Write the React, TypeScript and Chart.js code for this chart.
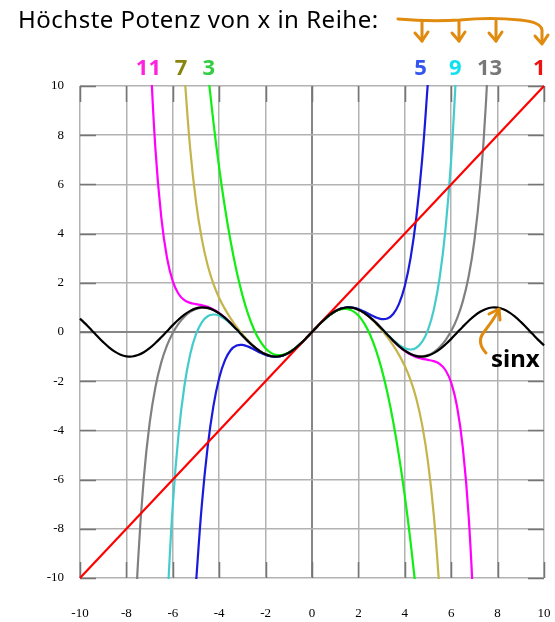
import React, { useEffect, useRef } from "react";
import { Chart, registerables } from "chart.js";

Chart.register(...registerables);

const _ = null;

// Shared x sample positions (step 0.25)
const X = [
  -10, -9.75, -9.5, -9.25, -9, -8.75, -8.5, -8.25,
  -8, -7.75, -7.5, -7.25, -7, -6.75, -6.5, -6.25,
  -6, -5.75, -5.5, -5.25, -5, -4.75, -4.5, -4.25,
  -4, -3.75, -3.5, -3.25, -3, -2.75, -2.5, -2.25,
  -2, -1.75, -1.5, -1.25, -1, -0.75, -0.5, -0.25,
  0,
  0.25, 0.5, 0.75, 1, 1.25, 1.5, 1.75, 2,
  2.25, 2.5, 2.75, 3, 3.25, 3.5, 3.75, 4,
  4.25, 4.5, 4.75, 5, 5.25, 5.5, 5.75, 6,
  6.25, 6.5, 6.75, 7, 7.25, 7.5, 7.75, 8,
  8.25, 8.5, 8.75, 9, 9.25, 9.5, 9.75, 10,
];

const SIN = [
  0.544, 0.32, 0.075, -0.174, -0.412, -0.625, -0.798, -0.923,
  -0.989, -0.995, -0.938, -0.823, -0.657, -0.45, -0.215, 0.033,
  0.279, 0.508, 0.706, 0.859, 0.959, 0.999, 0.978, 0.895,
  0.757, 0.572, 0.351, 0.108, -0.141, -0.382, -0.598, -0.778,
  -0.909, -0.984, -0.997, -0.949, -0.841, -0.682, -0.479, -0.247,
  0,
  0.247, 0.479, 0.682, 0.841, 0.949, 0.997, 0.984, 0.909,
  0.778, 0.598, 0.382, 0.141, -0.108, -0.351, -0.572, -0.757,
  -0.895, -0.978, -0.999, -0.959, -0.859, -0.706, -0.508, -0.279,
  -0.033, 0.215, 0.45, 0.657, 0.823, 0.938, 0.995, 0.989,
  0.923, 0.798, 0.625, 0.412, 0.174, -0.075, -0.32, -0.544,
];

// First-order term: a straight line
const T1_X = [-10, 10];
const T1_Y = [-10, 10];

const T3 = [
  _, _, _, _, _, _, _, _,
  _, _, _, _, _, _, _, _,
  _, _, _, _, _, _, 10.688, 8.544,
  6.667, 5.039, 3.646, 2.471, 1.5, 0.716, 0.104, -0.352,
  -0.667, -0.857, -0.938, -0.924, -0.833, -0.68, -0.479, -0.247,
  0,
  0.247, 0.479, 0.68, 0.833, 0.924, 0.938, 0.857, 0.667,
  0.352, -0.104, -0.716, -1.5, -2.471, -3.646, -5.039, -6.667,
  -8.544, -10.688, _, _, _, _, _, _,
  _, _, _, _, _, _, _, _,
  _, _, _, _, _, _, _, _,
];

const T5 = [
  _, _, _, _, _, _, _, _,
  _, _, _, _, _, _, _, _,
  _, _, _, _, -10.208, -7.038, -4.69, -3.011,
  -1.867, -1.141, -0.731, -0.55, -0.525, -0.595, -0.71, -0.832,
  -0.933, -0.994, -1.001, -0.95, -0.842, -0.682, -0.479, -0.247,
  0,
  0.247, 0.479, 0.682, 0.842, 0.95, 1.001, 0.994, 0.933,
  0.832, 0.71, 0.595, 0.525, 0.55, 0.731, 1.141, 1.867,
  3.011, 4.69, 7.038, 10.208, _, _, _, _,
  _, _, _, _, _, _, _, _,
  _, _, _, _, _, _, _, _,
];

const T7 = [
  _, _, _, _, _, _, _, _,
  _, _, _, _, _, _, _, _,
  _, _, 10.496, 7.442, 5.293, 3.787, 2.724, 1.959,
  1.384, 0.929, 0.546, 0.21, -0.091, -0.359, -0.589, -0.774,
  -0.908, -0.984, -0.997, -0.949, -0.841, -0.682, -0.479, -0.247,
  0,
  0.247, 0.479, 0.682, 0.841, 0.949, 0.997, 0.984, 0.908,
  0.774, 0.589, 0.359, 0.091, -0.21, -0.546, -0.929, -1.384,
  -1.959, -2.724, -3.787, -5.293, -7.442, -10.496, _, _,
  _, _, _, _, _, _, _, _,
  _, _, _, _, _, _, _, _,
];

const T9 = [
  _, _, _, _, _, _, _, _,
  _, _, _, _, _, _, _, -11.219,
  -7.029, -4.145, -2.195, -0.908, -0.09, 0.395, 0.639, 0.712,
  0.662, 0.524, 0.328, 0.098, -0.145, -0.383, -0.599, -0.778,
  -0.909, -0.984, -0.997, -0.949, -0.841, -0.682, -0.479, -0.247,
  0,
  0.247, 0.479, 0.682, 0.841, 0.949, 0.997, 0.984, 0.909,
  0.778, 0.599, 0.383, 0.145, -0.098, -0.328, -0.524, -0.662,
  -0.712, -0.639, -0.395, 0.09, 0.908, 2.195, 4.145, 7.029,
  11.219, _, _, _, _, _, _, _,
  _, _, _, _, _, _, _, _,
];

const T11 = [
  _, _, _, _, _, _, _, _,
  _, _, _, _, 11.842, 7.454, 4.693, 3.021,
  2.06, 1.546, 1.295, 1.184, 1.134, 1.09, 1.023, 0.917,
  0.767, 0.576, 0.353, 0.109, -0.141, -0.382, -0.598, -0.778,
  -0.909, -0.984, -0.997, -0.949, -0.841, -0.682, -0.479, -0.247,
  0,
  0.247, 0.479, 0.682, 0.841, 0.949, 0.997, 0.984, 0.909,
  0.778, 0.598, 0.382, 0.141, -0.109, -0.353, -0.576, -0.767,
  -0.917, -1.023, -1.09, -1.134, -1.184, -1.295, -1.546, -2.06,
  -3.021, -4.693, -7.454, -11.842, _, _, _, _,
  _, _, _, _, _, _, _, _,
];

const T13 = [
  _, _, _, _, _, _, _, _,
  _, -14.58, -9.35, -5.944, -3.718, -2.244, -1.245, -0.545,
  -0.037, 0.339, 0.618, 0.815, 0.938, 0.99, 0.973, 0.893,
  0.756, 0.571, 0.351, 0.108, -0.141, -0.382, -0.599, -0.778,
  -0.909, -0.984, -0.997, -0.949, -0.841, -0.682, -0.479, -0.247,
  0,
  0.247, 0.479, 0.682, 0.841, 0.949, 0.997, 0.984, 0.909,
  0.778, 0.599, 0.382, 0.141, -0.108, -0.351, -0.571, -0.756,
  -0.893, -0.973, -0.99, -0.938, -0.815, -0.618, -0.339, 0.037,
  0.545, 1.245, 2.244, 3.718, 5.944, 9.35, 14.58, _,
  _, _, _, _, _, _, _, _,
];

// Order labels above the plot, with the x value each one sits over
const ORDER_LABELS = ["11", "7", "3", "5", "9", "13", "1"];
const ORDER_LABEL_X = [-7.05, -5.65, -4.45, 4.68, 6.18, 7.65, 9.8];
const ORDER_LABEL_COLORS = ["#ff22dd", "#8a8410", "#33cc44", "#3355ee", "#11e0ee", "#777777", "#ee1111"];

const TITLE = "Höchste Potenz von x in Reihe:";
const SIN_LABEL = "sinx";

const AXIS_MIN = -10;
const AXIS_MAX = 10;
const AXIS_STEP = 2;

const ORANGE = "#e08a0e";

function pts(xs: number[], ys: (number | null)[]) {
  return xs.map((x, i) => ({ x, y: ys[i] }));
}

const frameTicks = {
  id: "frameTicks",
  beforeDatasetsDraw(chart: any) {
    const { ctx, chartArea: a, scales } = chart;
    const len = 16;
    ctx.save();
    ctx.strokeStyle = "#757575";
    ctx.lineWidth = 1.5;
    for (let v = AXIS_MIN; v <= AXIS_MAX; v += AXIS_STEP) {
      const px = Math.round(scales.x.getPixelForValue(v)) + 0.5;
      const py = Math.round(scales.y.getPixelForValue(v)) + 0.5;
      ctx.beginPath();
      ctx.moveTo(px, a.top);
      ctx.lineTo(px, a.top + len);
      ctx.moveTo(px, a.bottom);
      ctx.lineTo(px, a.bottom - len);
      ctx.moveTo(a.left, py);
      ctx.lineTo(a.left + len, py);
      ctx.moveTo(a.right, py);
      ctx.lineTo(a.right - len, py);
      ctx.stroke();
    }
    ctx.restore();
  },
};

function arrowHead(ctx: CanvasRenderingContext2D, x: number, y: number) {
  ctx.beginPath();
  ctx.moveTo(x - 7, y - 8);
  ctx.lineTo(x, y);
  ctx.lineTo(x + 6, y - 9);
  ctx.stroke();
}

const annotations = {
  id: "annotations",
  afterDraw(chart: any) {
    const { ctx, scales } = chart;
    ctx.save();

    // heading
    ctx.fillStyle = "#000";
    ctx.font = '24px "Noto Sans"';
    (ctx as any).letterSpacing = "0.5px";
    ctx.textAlign = "left";
    ctx.textBaseline = "alphabetic";
    ctx.fillText(TITLE, 18, 28);
    (ctx as any).letterSpacing = "0px";

    // order labels
    ctx.font = 'bold 22px "Noto Sans"';
    ctx.textAlign = "center";
    ctx.textBaseline = "middle";
    ORDER_LABELS.forEach((t, i) => {
      ctx.fillStyle = ORDER_LABEL_COLORS[i];
      ctx.fillText(t, scales.x.getPixelForValue(ORDER_LABEL_X[i]), 69);
    });

    // bracket with arrows pointing at the right-hand labels
    ctx.strokeStyle = ORANGE;
    ctx.lineWidth = 3;
    ctx.lineCap = "round";
    ctx.lineJoin = "round";
    ctx.beginPath();
    ctx.moveTo(398, 19);
    ctx.quadraticCurveTo(430, 22, 460, 20);
    ctx.quadraticCurveTo(490, 17, 520, 20);
    ctx.quadraticCurveTo(541, 22, 542, 30);
    ctx.lineTo(542, 43);
    ctx.stroke();
    [422, 459, 496].forEach((x) => {
      ctx.beginPath();
      ctx.moveTo(x, 21);
      ctx.lineTo(x, 41);
      ctx.stroke();
      arrowHead(ctx, x, 41);
    });
    arrowHead(ctx, 542, 44);

    // sin x note with curved arrow
    ctx.beginPath();
    ctx.moveTo(486, 353);
    ctx.quadraticCurveTo(476, 342, 484, 332);
    ctx.quadraticCurveTo(492, 322, 499, 310);
    ctx.stroke();
    ctx.beginPath();
    ctx.moveTo(489, 314);
    ctx.lineTo(499, 309);
    ctx.lineTo(500, 320);
    ctx.stroke();

    ctx.fillStyle = "#000";
    ctx.font = 'bold 24px "Noto Sans"';
    ctx.textAlign = "left";
    ctx.textBaseline = "alphabetic";
    ctx.fillText(SIN_LABEL, 491, 367);

    ctx.restore();
  },
};

function line(label: string, data: any[], color: string) {
  return {
    label,
    data,
    borderColor: color,
    borderWidth: 2.2,
    pointRadius: 0,
    tension: 0.4,
    spanGaps: false,
    clip: 1,
    fill: false,
  };
}

export default function App() {
  const ref = useRef<HTMLCanvasElement | null>(null);

  useEffect(() => {
    if (!ref.current) return;
    const tickFont = { family: '"Liberation Serif", "Times New Roman", serif', size: 13 };
    const gridColor = (c: any) => (c.tick && c.tick.value === 0 ? "#868686" : "#b2b2b2");
    const gridWidth = (c: any) => (c.tick && c.tick.value === 0 ? 2 : 1.5);
    const chart = new Chart(ref.current, {
      type: "line",
      data: {
        datasets: [
          line("sin x", pts(X, SIN), "#000000"),
          line("1", pts(T1_X, T1_Y), "#ff0000"),
          line("3", pts(X, T3), "#11ee11"),
          line("5", pts(X, T5), "#1a1add"),
          line("7", pts(X, T7), "#c4b44c"),
          line("9", pts(X, T9), "#44cccc"),
          line("11", pts(X, T11), "#ff00ff"),
          line("13", pts(X, T13), "#808080"),
        ] as any,
      },
      options: {
        responsive: false,
        maintainAspectRatio: false,
        animation: false,
        layout: { padding: { left: 0, top: 86, right: 11, bottom: 0 } },
        plugins: { legend: { display: false }, tooltip: { enabled: false } },
        scales: {
          x: {
            type: "linear",
            min: AXIS_MIN,
            max: AXIS_MAX,
            afterFit: (s: any) => {
              s.height = 44;
              s.paddingLeft = 0;
              s.paddingRight = 0;
            },
            border: { display: false },
            grid: { color: gridColor, lineWidth: gridWidth, drawTicks: false },
            ticks: { stepSize: AXIS_STEP, padding: 28, color: "#000", font: tickFont, autoSkip: false, maxRotation: 0 },
          },
          y: {
            type: "linear",
            min: AXIS_MIN,
            max: AXIS_MAX,
            afterFit: (s: any) => {
              s.width = 80;
              s.paddingTop = 0;
              s.paddingBottom = 0;
            },
            border: { display: false },
            grid: { color: gridColor, lineWidth: gridWidth, drawTicks: false },
            ticks: { stepSize: AXIS_STEP, padding: 16, color: "#000", font: tickFont, autoSkip: false },
          },
        },
      } as any,
      plugins: [frameTicks, annotations],
    });
    return () => chart.destroy();
  }, []);

  return (
    <div style={{ position: "fixed", left: 0, top: 0, width: 555, height: 622, background: "#fff" }}>
      <canvas ref={ref} width={555} height={622} style={{ display: "block" }} />
    </div>
  );
}
